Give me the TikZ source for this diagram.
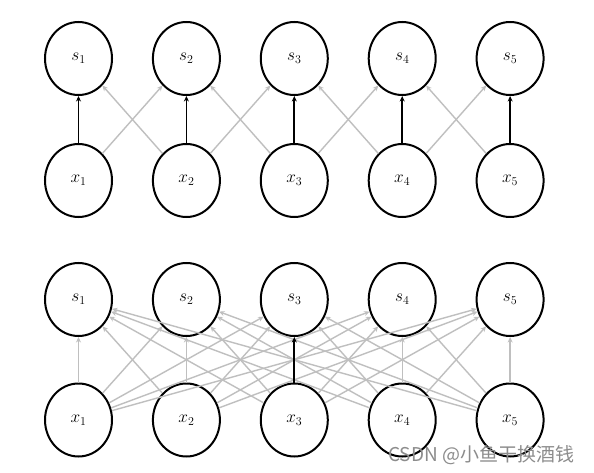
\documentclass[tikz,border=0pt]{standalone}
\usepackage{fontspec}
\newfontfamily\cjk{Noto Sans CJK SC}
\usetikzlibrary{shapes.geometric,arrows.meta}
\begin{document}
\begin{tikzpicture}[x=1pt,y=-1pt,
  unit/.style={ellipse,draw=black,line width=2pt,minimum width=67pt,minimum height=73pt,inner sep=0pt,font=\fontsize{17}{19}\selectfont},
  darkarrow/.style={draw=black,line width=1.7pt,-{Stealth[length=5.5pt,width=5pt]}},
  lightarrow/.style={draw=black!25,line width=1.4pt,-{Stealth[length=5.5pt,width=5pt]}},
  wmtext/.style={font=\cjk\fontsize{19}{21}\selectfont,text=black!45,inner sep=0pt}]
\useasboundingbox (0,0) rectangle (594,473);
\fill[white] (0,0) rectangle (594,473);
% top diagram
\foreach \i in {1,...,5}{
  \node[unit] (ts\i) at ({78.5+107.9*(\i-1)},58.5) {$s_\i$};
  \node[unit] (tx\i) at ({78.5+107.9*(\i-1)},180.5) {$x_\i$};
}
\foreach \i/\j in {1/2,2/3,3/4,4/5}{
  \draw[lightarrow] (tx\i) -- (ts\j);
  \draw[lightarrow] (tx\j) -- (ts\i);
}
\foreach \i in {1,...,5}{
  \draw[darkarrow] (tx\i) -- (ts\i);
}
% bottom diagram
\foreach \i in {1,...,5}{
  \node[unit] (bs\i) at ({78.5+107.9*(\i-1)},299.5) {$s_\i$};
  \node[unit] (bx\i) at ({78.5+107.9*(\i-1)},420) {$x_\i$};
}
\foreach \i in {1,...,5}{
  \foreach \j in {1,...,5}{
    \ifnum\i=3 \ifnum\j=3 \else \draw[lightarrow] (bx\i) -- (bs\j); \fi
    \else \draw[lightarrow] (bx\i) -- (bs\j); \fi
  }
}
\draw[darkarrow] (bx3) -- (bs3);
\node[wmtext,anchor=west] (wm) at (388,455) {CSDN @小鱼干换酒钱};
\end{tikzpicture}
\end{document}
